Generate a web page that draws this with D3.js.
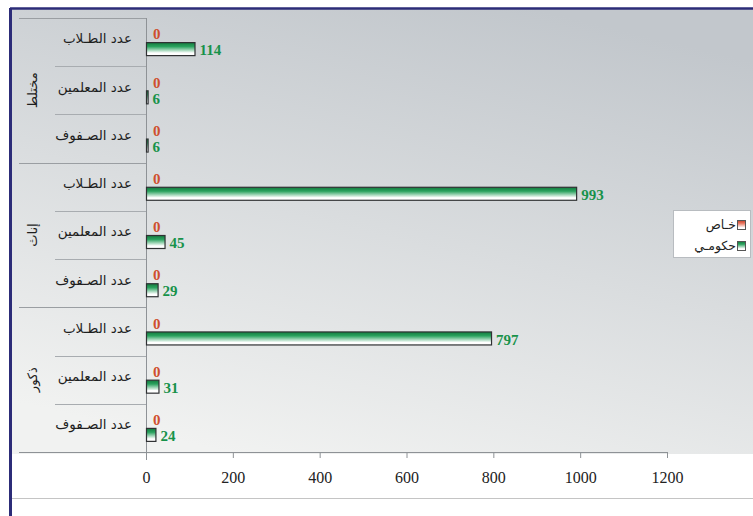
<!DOCTYPE html>
<html>
<head>
<meta charset="utf-8">
<script src="https://cdn.jsdelivr.net/npm/d3@7/dist/d3.min.js"></script>
<style>
  html, body { margin: 0; padding: 0; background: #ffffff; }
  svg { display: block; }
</style>
</head>
<body>
<svg id="chart" width="753" height="516"></svg>
<script>
// Groups (top to bottom) and the categories repeated inside each group
const groups = ["مختلط", "إناث", "ذكور"];
const categories = ["عدد الطـلاب", "عدد المعلمين", "عدد الصـفوف"];

// Series values, in row order from top to bottom
const governmentValues = [114, 6, 6, 993, 45, 29, 797, 31, 24];
const privateValues = [0, 0, 0, 0, 0, 0, 0, 0, 0];

const seriesNames = ["خـاص", "حكومـي"];
const xTicks = [0, 200, 400, 600, 800, 1000, 1200];

const rows = [];
groups.forEach((g, gi) => {
  categories.forEach((c, ci) => {
    const i = gi * categories.length + ci;
    rows.push({ key: g + "|" + c, group: g, cat: c, gov: governmentValues[i], priv: privateValues[i] });
  });
});

const svg = d3.select("#chart");
const defs = svg.append("defs");

// Background wash of the chart frame
const bg = defs.append("linearGradient").attr("id", "bgGrad")
  .attr("x1", "0.7").attr("y1", "0").attr("x2", "0.3").attr("y2", "1");
bg.append("stop").attr("offset", "0").attr("stop-color", "#c2c7cc");
bg.append("stop").attr("offset", "1").attr("stop-color", "#f1f2f1");

function barGradient(id, dark, mid) {
  const g = defs.append("linearGradient").attr("id", id)
    .attr("x1", 0).attr("y1", 0).attr("x2", 0).attr("y2", 1);
  g.append("stop").attr("offset", "0").attr("stop-color", dark);
  g.append("stop").attr("offset", "0.3").attr("stop-color", mid);
  g.append("stop").attr("offset", "0.8").attr("stop-color", "#ffffff");
  g.append("stop").attr("offset", "1").attr("stop-color", "#ffffff");
}
barGradient("govGrad", "#137a3e", "#2aa25e");
barGradient("privGrad", "#c2402a", "#e8735c");

const x = d3.scaleLinear().domain([0, 1200]).range([146, 667]);
const y = d3.scaleBand().domain(rows.map(r => r.key)).range([18, 452]);
const bw = y.bandwidth();

// Frame
svg.append("rect").attr("x", 10).attr("y", 8).attr("width", 743).attr("height", 446)
  .attr("fill", "url(#bgGrad)");
svg.append("line").attr("x1", 10).attr("x2", 753).attr("y1", 8.5).attr("y2", 8.5)
  .attr("stroke", "#2c2c78").attr("stroke-width", 2.5);
svg.append("line").attr("x1", 10.5).attr("x2", 10.5).attr("y1", 8).attr("y2", 516)
  .attr("stroke", "#2c2c78").attr("stroke-width", 3);
svg.append("line").attr("x1", 12).attr("x2", 753).attr("y1", 498.5).attr("y2", 498.5)
  .attr("stroke", "#c4c4c4").attr("stroke-width", 1.2);

// Category separators
const sep = svg.append("g");
sep.append("line").attr("x1", 19).attr("x2", 146).attr("y1", 18.5).attr("y2", 18.5)
  .attr("stroke", "#9a9ea2");
rows.forEach((r, i) => {
  if (i === rows.length - 1) return;
  const yy = Math.round(y(r.key) + bw) + 0.5;
  const isGroupEnd = (i + 1) % categories.length === 0;
  sep.append("line")
    .attr("x1", isGroupEnd ? 19 : 55).attr("x2", 146)
    .attr("y1", yy).attr("y2", yy)
    .attr("stroke", isGroupEnd ? "#9a9ea2" : "#a8acb0");
});

// Category labels
svg.append("g").selectAll("text").data(rows).join("text")
  .attr("x", 132)
  .attr("y", d => y(d.key) + bw / 2)
  .attr("dy", "0.1em")
  .attr("text-anchor", "end")
  .attr("font-family", "DejaVu Sans, sans-serif")
  .attr("font-size", 13.5)
  .attr("fill", "#1e1e1e")
  .text(d => d.cat);

// Group labels, rotated
svg.append("g").selectAll("text").data(groups).join("text")
  .attr("transform", (g, gi) => {
    const top = y(rows[gi * categories.length].key);
    const bottom = y(rows[gi * categories.length + categories.length - 1].key) + bw;
    return `translate(32,${(top + bottom) / 2}) rotate(-90)`;
  })
  .attr("text-anchor", "middle")
  .attr("dy", "0.35em")
  .attr("font-family", "DejaVu Sans, sans-serif")
  .attr("font-size", 13)
  .attr("fill", "#1e1e1e")
  .text(d => d);

// X axis
const xAxis = svg.append("g").attr("transform", "translate(0,452)")
  .call(d3.axisBottom(x).tickValues(xTicks).tickSize(6).tickFormat(d3.format("d")).tickSizeOuter(0));
xAxis.select(".domain").remove();
xAxis.selectAll(".tick line").attr("stroke", "#8e9296");
xAxis.selectAll(".tick text")
  .attr("y", 25)
  .attr("dy", "0.35em")
  .attr("font-family", "Liberation Serif, serif")
  .attr("font-size", 16)
  .attr("fill", "#222");
svg.append("line").attr("x1", 19).attr("x2", 667).attr("y1", 452.5).attr("y2", 452.5)
  .attr("stroke", "#8e9296");
svg.append("line").attr("x1", 146.5).attr("x2", 146.5).attr("y1", 18).attr("y2", 460)
  .attr("stroke", "#8e9296");

// Bars
const barH = 14;
const bars = svg.append("g");
bars.selectAll("rect.priv").data(rows).join("rect").attr("class", "priv")
  .attr("x", x(0)).attr("y", d => y(d.key) + bw / 2 - barH)
  .attr("width", d => x(d.priv) - x(0)).attr("height", barH)
  .attr("fill", "url(#privGrad)").attr("stroke", d => d.priv > 0 ? "#333" : "none");
bars.selectAll("rect.gov").data(rows).join("rect").attr("class", "gov")
  .attr("x", x(0) + 0.5).attr("y", d => y(d.key) + bw / 2 + 0.5)
  .attr("width", d => Math.max(1, x(d.gov) - x(0) - 1)).attr("height", barH - 1)
  .attr("fill", "url(#govGrad)").attr("stroke", "#2f3133").attr("stroke-width", 1.2);

// Value labels
svg.append("g").selectAll("text").data(rows).join("text")
  .attr("x", d => x(d.priv) + 7)
  .attr("y", d => y(d.key) + bw / 2 - barH / 2 - 1)
  .attr("dy", "0.35em")
  .attr("font-family", "Liberation Serif, serif")
  .attr("font-weight", "bold")
  .attr("font-size", 15)
  .attr("fill", "#cf4f2e")
  .text(d => d.priv);
svg.append("g").selectAll("text").data(rows).join("text")
  .attr("x", d => x(d.gov) + 4)
  .attr("y", d => y(d.key) + bw / 2 + barH / 2 + 1)
  .attr("dy", "0.35em")
  .attr("font-family", "Liberation Serif, serif")
  .attr("font-weight", "bold")
  .attr("font-size", 15)
  .attr("fill", "#17924a")
  .text(d => d.gov);

// Legend
const legend = svg.append("g");
legend.append("rect").attr("x", 673.5).attr("y", 210.5).attr("width", 77).attr("height", 47)
  .attr("fill", "#ffffff").attr("stroke", "#b8bcc0");
const swatchFills = ["url(#privGrad)", "url(#govGrad)"];
seriesNames.forEach((name, i) => {
  const cy = 225 + i * 21;
  legend.append("rect").attr("x", 737.5).attr("y", cy - 4.5).attr("width", 8).attr("height", 9)
    .attr("fill", swatchFills[i]).attr("stroke", "#555");
  legend.append("text").attr("x", 736).attr("y", cy).attr("dy", "0.35em")
    .attr("text-anchor", "end")
    .attr("font-family", "DejaVu Sans, sans-serif").attr("font-size", 12.5)
    .attr("fill", "#1e1e1e").text(name);
});
</script>
</body>
</html>
